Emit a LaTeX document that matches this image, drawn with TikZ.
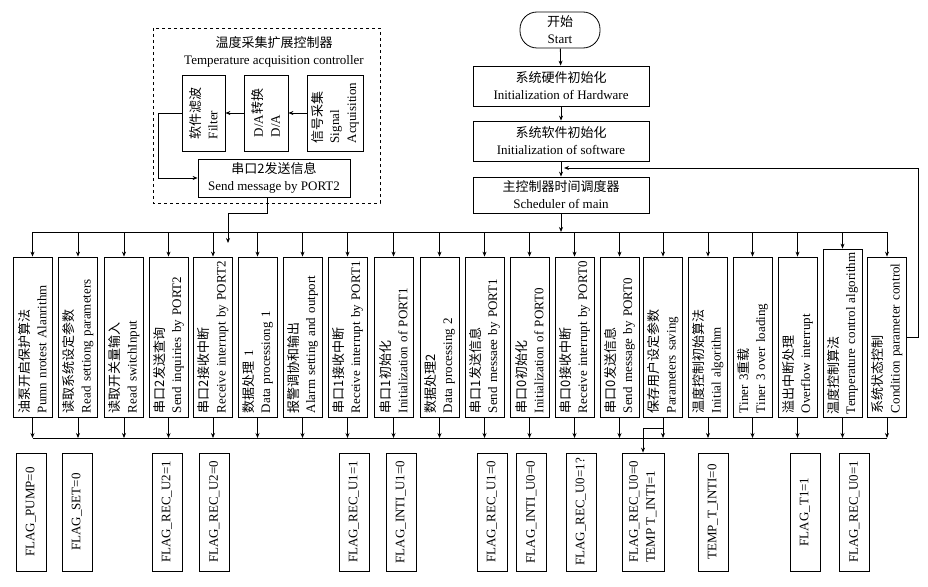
\documentclass[tikz,border=0pt]{standalone}
\usepackage{fontspec}
\setmainfont{Liberation Serif}
\newfontfamily\cjk{Noto Sans CJK SC}
\newcommand{\zh}[1]{{\cjk #1}}
\usetikzlibrary{positioning, arrows.meta}
\tikzset{
  box/.style={draw, rectangle, align=center, inner sep=2pt},
  vbox/.style={draw, rotate=90, align=left, text width=152pt, inner xsep=4pt, minimum height=39pt},
  flagbox/.style={draw, rotate=90, align=left, minimum width=118pt, minimum height=30pt, inner sep=2pt},
  arr/.style={->, line width=0.8pt}
}

\begin{document}
\begin{tikzpicture}[x=1pt, y=-1pt, font=\fontsize{13}{17}\selectfont, line width=0.8pt,
  >={Stealth[length=5pt, width=4pt]}]
\useasboundingbox (0,0) rectangle (928,586);

\draw[dashed] (153,28) rectangle (380,203);
\node[align=center] at (274,52) (title) {\zh{温度采集扩展控制器}\\Temperature acquisition controller};
\node[draw, rotate=90, align=left, minimum width=76pt, minimum height=43pt] at (203.5,113) (filt) {\zh{软件滤波}\\Filter};
\node[draw, rotate=90, align=left, minimum width=76pt, minimum height=44pt] at (266,113) (da) {D/A\zh{转换}\\D/A};
\node[draw, rotate=90, align=left, minimum width=76pt, minimum height=56pt, inner sep=1pt] at (335,113) (sig) {\zh{信号采集}\\Signal\\Acquisition};
\node[box, minimum width=152pt, minimum height=38pt] at (274,178) (send) {\zh{串口2发送信息}\\Send message by PORT2};

\node[draw, rounded corners=17pt, align=center, minimum width=80pt, minimum height=36pt] at (560,30) (start) {\zh{开始}\\Start};
\node[box, minimum width=176pt, minimum height=40pt] at (561,86) (hw) {\zh{系统硬件初始化}\\Initialization of Hardware};
\node[box, minimum width=176pt, minimum height=40pt] at (561,141) (sw) {\zh{系统软件初始化}\\Initialization of software};
\node[box, minimum width=176pt, minimum height=36pt] at (561,195) (sched) {\zh{主控制器时间调度器}\\Scheduler of main};

\node[vbox] at (32.5,337) (pump) {\zh{油泵开启保护算法}\\Pumn nrotest Alanrithm};
\node[vbox] at (78,337) (readset) {\zh{读取系统设定参数}\\Read settiong parameters};
\node[vbox] at (124,337) (readsw) {\zh{读取开关量输入}\\Read switchInput};
\node[vbox] at (168.5,337) (sendtwo) {\zh{串口2发送查询}\\Send inquiries by PORT2};
\node[vbox] at (213,337) (rectwo) {\zh{串口2接收中断}\\Receive interrupt by PORT2};
\node[vbox] at (257.5,337) (dataone) {\zh{数据处理} 1\\Data processiong 1};
\node[vbox] at (302.5,337) (alarm) {\zh{报警调协和输出}\\Alarm setting and outport};
\node[vbox] at (347.5,337) (recone) {\zh{串口1接收中断}\\Receive interrupt by PORT1};
\node[vbox] at (393.5,337) (initone) {\zh{串口1初始化}\\Initialization of PORT1};
\node[vbox] at (439.5,337) (datatwo) {\zh{数据处理2}\\Data processing 2};
\node[vbox] at (484.5,337) (sendone) {\zh{串口1发送信息}\\Send messaee by PORT1};
\node[vbox] at (529.5,337) (initzero) {\zh{串口0初始化}\\Initialization of PORT0};
\node[vbox] at (574.5,337) (reczero) {\zh{串口0接收中断}\\Receive interrupt by PORT0};
\node[vbox] at (619.5,337) (sendzero) {\zh{串口0发送信息}\\Send message by PORT0};
\node[vbox] at (663,337) (save) {\zh{保存用户设定参数}\\Parameters saving};
\node[vbox] at (708,337) (tinit) {\zh{温度控制初始算法}\\Initial algorithm};
\node[vbox] at (752.5,337) (tload) {Tiner 3\zh{重载}\\Tiner 3 over loading};
\node[vbox] at (797.5,337) (ovf) {\zh{溢出中断处理}\\Overflow interrupt};
\node[vbox, text width=162pt, inner xsep=3pt] at (842.5,333) (tctrl) {\zh{温度控制算法}\\Temperature control algorithm};
\node[vbox] at (887,337) (cond) {\zh{系统状态控制}\\Condition parameter control};

\node[flagbox] at (31,512) (fpump) {FLAG\_PUMP=0};
\node[flagbox] at (77,512) (fset) {FLAG\_SET=0};
\node[flagbox] at (167,512) (frectwoa) {FLAG\_REC\_U2=1};
\node[flagbox] at (214.5,512) (frectwob) {FLAG\_REC\_U2=0};
\node[flagbox] at (354,512) (frecone) {FLAG\_REC\_U1=1};
\node[flagbox] at (401,512) (finitone) {FLAG\_INTI\_U1=0};
\node[flagbox] at (492,512) (frecdone) {FLAG\_REC\_U1=0};
\node[flagbox] at (531.5,512) (finitzero) {FLAG\_INTI\_U0=0};
\node[flagbox] at (581,512) (freczero) {FLAG\_REC\_U0=1?};
\node[flagbox, minimum height=42pt] at (643,512) (fsave) {FLAG\_REC\_U0=0\\TEMP T\_INTI=1};
\node[flagbox] at (713,512) (ftemp) {TEMP\_T\_INTI=0};
\node[flagbox] at (805,512) (ftone) {FLAG\_T1=1};
\node[flagbox] at (854.5,512) (frecend) {FLAG\_REC\_U0=1};

\coordinate (tl) at (32.5,232);
\coordinate (tr) at (887,232);
\coordinate (bl) at (32.5,438);
\coordinate (br) at (887,438);
\coordinate (fl) at (158,178);
\coordinate (sd) at (228,213);
\coordinate (se) at (228,243);
\coordinate (fbc) at (918,168);
\coordinate (fbin) at (564,168);
\coordinate (sv) at (643,428);

\draw[arr] (sig.north) -- (da.south);
\draw[arr] (da.north) -- (filt.south);
\draw[arr] (filt.north) -| (fl) -- (send.west);
\draw[arr] ([xshift=-7pt]send.south) |- (sd) -- (se);

\draw[arr] (start) -- (hw);
\draw[arr] (hw) -- (sw);
\draw[arr] (sw) -- (sched);
\draw[arr] (sched.south) -- (sched.south |- tl);
\draw[arr] (cond.south) -| (fbc) -- (fbin);

\draw (tl) -- (tr);
\draw (bl) -- (br);
\draw[arr] (pump |- tl) -- (pump.east);      \draw[arr] (pump.west) -- (pump |- bl);
\draw[arr] (readset |- tl) -- (readset.east); \draw[arr] (readset.west) -- (readset |- bl);
\draw[arr] (readsw |- tl) -- (readsw.east);   \draw[arr] (readsw.west) -- (readsw |- bl);
\draw[arr] (sendtwo |- tl) -- (sendtwo.east); \draw[arr] (sendtwo.west) -- (sendtwo |- bl);
\draw[arr] (rectwo |- tl) -- (rectwo.east);   \draw[arr] (rectwo.west) -- (rectwo |- bl);
\draw[arr] (dataone |- tl) -- (dataone.east); \draw[arr] (dataone.west) -- (dataone |- bl);
\draw[arr] (alarm |- tl) -- (alarm.east);     \draw[arr] (alarm.west) -- (alarm |- bl);
\draw[arr] (recone |- tl) -- (recone.east);   \draw[arr] (recone.west) -- (recone |- bl);
\draw[arr] (initone |- tl) -- (initone.east); \draw[arr] (initone.west) -- (initone |- bl);
\draw[arr] (datatwo |- tl) -- (datatwo.east); \draw[arr] (datatwo.west) -- (datatwo |- bl);
\draw[arr] (sendone |- tl) -- (sendone.east); \draw[arr] (sendone.west) -- (sendone |- bl);
\draw[arr] (initzero |- tl) -- (initzero.east); \draw[arr] (initzero.west) -- (initzero |- bl);
\draw[arr] (reczero |- tl) -- (reczero.east); \draw[arr] (reczero.west) -- (reczero |- bl);
\draw[arr] (sendzero |- tl) -- (sendzero.east); \draw[arr] (sendzero.west) -- (sendzero |- bl);
\draw[arr] (save |- tl) -- (save.east);       \draw[arr] (save.west) -- (save |- bl);
\draw[arr] (tinit |- tl) -- (tinit.east);     \draw[arr] (tinit.west) -- (tinit |- bl);
\draw[arr] (tload |- tl) -- (tload.east);     \draw[arr] (tload.west) -- (tload |- bl);
\draw[arr] (ovf |- tl) -- (ovf.east);         \draw[arr] (ovf.west) -- (ovf |- bl);
\draw[arr] (tctrl |- tl) -- (tctrl.east);     \draw[arr] (tctrl.west) -- (tctrl |- bl);
\draw[arr] (cond |- tl) -- (cond.east);       \draw[arr] (cond.west) -- (cond |- bl);
\draw[arr] (save |- sv) -- (sv) -- (fsave.east);
\end{tikzpicture}
\end{document}
